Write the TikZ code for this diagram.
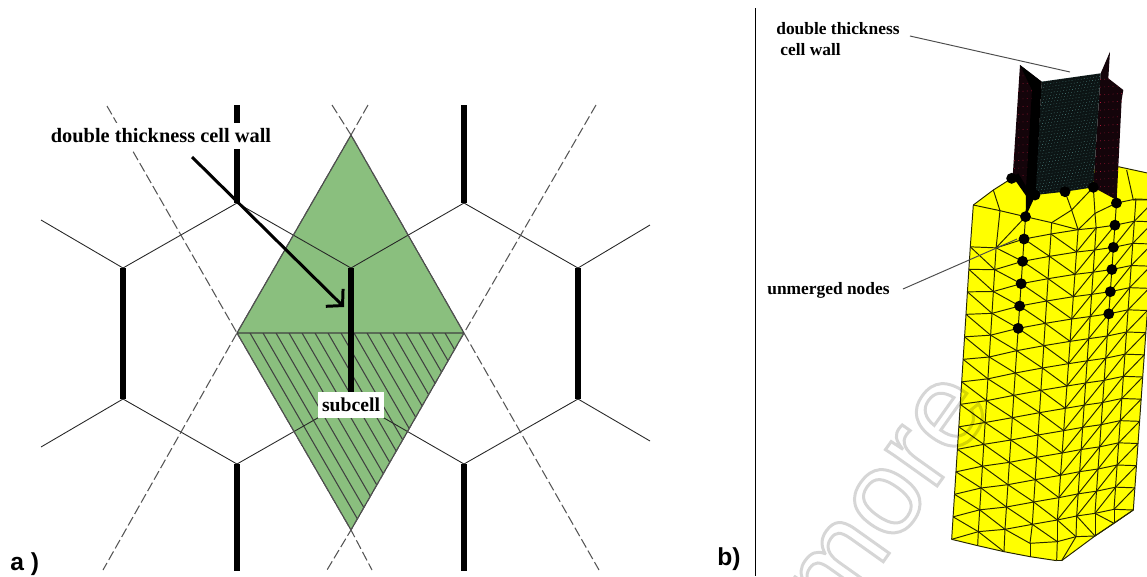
\documentclass[tikz,border=0pt]{standalone}
\usepackage{fontspec}
\setmainfont{Liberation Serif}
\newfontfamily\panelfont{Liberation Sans}
\usepackage{tikz}
\usetikzlibrary{positioning,calc,arrows.meta}
\definecolor{colorsub}{HTML}{8ABF7E}
\definecolor{colormesh}{HTML}{FFFF00}
\definecolor{colordash}{HTML}{555555}
\definecolor{colorleft}{HTML}{14040A}
\definecolor{colormid}{HTML}{0C1414}
\definecolor{colorred}{HTML}{B01838}
\definecolor{colorteal}{HTML}{5A9A98}
\tikzset{
  tag/.style={draw=none, inner sep=0pt, font=\bfseries},
  whitetag/.style={tag, fill=white, minimum height=14.5pt, inner xsep=1pt},
  panel/.style={draw=none, inner sep=0pt, font=\panelfont\bfseries\fontsize{14}{14}\selectfont},
  edgethin/.style={black!85, line width=0.5pt},
  edgewall/.style={black, line width=2.9pt},
  edgecut/.style={colordash, line width=0.6pt, dash pattern=on 5.5pt off 2pt},
  edgesub/.style={black!75, line width=0.6pt},
  edgelead/.style={black!70, line width=0.55pt},
  edgemesh/.style={black!85!colormesh, line width=0.55pt},
  nodedot/.style={circle, fill=black, inner sep=0pt, minimum size=6.2pt}
}
\begin{document}
\begin{tikzpicture}[x=0.02cm,y=-0.02cm]
\useasboundingbox (0,0) rectangle (1147,576);
\clip (0,0) rectangle (1147,576);

\coordinate (top) at (351,135);
\coordinate (lft) at (237,333);
\coordinate (rgt) at (464,333);
\coordinate (bot) at (351,530);
\coordinate (h1) at (237,203);
\coordinate (h2) at (351,268);
\coordinate (h3) at (464,203);
\coordinate (h4) at (123,268);
\coordinate (h5) at (578,268);
\coordinate (h6) at (123,399);
\coordinate (h7) at (351,399);
\coordinate (h8) at (578,399);
\coordinate (h9) at (237,464);
\coordinate (h10) at (464,464);

\fill[colorsub] (top) -- (rgt) -- (bot) -- (lft) -- cycle;
\begin{scope}
\clip (lft) -- (rgt) -- (bot) -- cycle;
\foreach \i in {0,...,15}
  \draw[edgesub] (250+\i*13,333) -- ++(171,296);
\end{scope}
\draw[edgesub] (top) -- (rgt) -- (bot) -- (lft) -- cycle (lft) -- (rgt);

\foreach \a/\b in {h4/h1,h1/h2,h2/h3,h3/h5,h6/h9,h9/h7,h7/h10,h10/h8}
  \draw[edgethin] (\a) -- (\b);
\draw[edgethin] (41,220) -- (h4);
\draw[edgethin] (41,447) -- (h6);
\draw[edgethin] (650,225) -- (h5);
\draw[edgethin] (650,441) -- (h8);

\draw[edgecut] (107,106) -- (lft) -- (bot) -- (372,570);
\draw[edgecut] (368,105) -- (top) -- (lft) -- (103,570);
\draw[edgecut] (596,105) -- (rgt) -- (bot) -- (327,570);
\draw[edgecut] (332,105) -- (top) -- (rgt) -- (599,570);

\draw[edgewall] (237,105) -- (h1);
\draw[edgewall] (464,105) -- (h3);
\draw[edgewall] (h2) -- (h7);
\draw[edgewall] (h4) -- (h6);
\draw[edgewall] (h5) -- (h8);
\draw[edgewall] (h9) -- (237,571);
\draw[edgewall] (h10) -- (464,571);

\node[whitetag, font=\bfseries\fontsize{11.6}{12}\selectfont, anchor=center, minimum height=15pt] (wallA) at (161,136)
{double thickness cell wall};
\node[whitetag, font=\bfseries\fontsize{11.2}{12}\selectfont, anchor=center, minimum width=37.5pt] (sub) at (351,405)
{subcell};
\coordinate (tipA) at (344,307);
\draw[black, line width=1.7pt, -{Straight Barb[length=6.5pt,width=14pt,line width=1.7pt]}] (192,157) -- (tipA);

\node[panel, anchor=base west] (pa) at (10,570) {a )};
\node[panel, anchor=base west] (pb) at (717,565) {b)};
\draw[black, line width=0.6pt] (755.5,8) -- (755.5,576);

\begin{scope}[shift={(860,280)},x=0.02cm/3,y=-0.02cm/3]
\foreach \c/\xa/\ya/\xb/\yb in {0/275/778/4.3/67.5,1/355/755/4.1/65.5,2/435/748/4.4/67,3/517/733/4.3/67,4/592/720/4.8/67,5/650/708/4.5/66.5,6/705/700/4.6/66.5,7/762/688/4.7/66.5,8/820/690/4.7/66.5}
  \foreach \k in {0,...,14}
    \coordinate (m\c-\k) at ({\xa+\k*\xb},{\ya-\k*\yb});
\coordinate (ta) at (340,-225);
\coordinate (tb) at (400,-270);
\coordinate (tc) at (455,-305);
\coordinate (td) at (420,-208);
\coordinate (te) at (525,-255);
\coordinate (tf) at (615,-265);
\coordinate (tg) at (700,-278);
\coordinate (th) at (575,-172);
\coordinate (ti) at (635,-210);
\coordinate (tj) at (705,-200);
\coordinate (tk) at (775,-340);
\coordinate (tl) at (890,-315);
\coordinate (tm) at (800,-330);
\coordinate (tn) at (820,-240);
\coordinate (b1) at (353,797);
\coordinate (b2) at (432,815);
\coordinate (b3) at (510,830);
\coordinate (b4) at (590,842);
\coordinate (b5) at (605,842);
\coordinate (b6) at (705,768);
\coordinate (c3) at (510,790);
\coordinate (c4) at (592,785);
\coordinate (c5) at (648,770);
\coordinate (c7) at (762,730);

\fill[colormesh] (m0-0) -- (ta) -- (tb) -- (tc) -- (tk) -- (tl) -- (m8-14) -- (m8-0) -- (b6) -- (b5) -- (b4) -- (b3) -- (b2) -- (b1) -- cycle;

\foreach \c [count=\d from 1] in {0,...,7}
  \foreach \k in {0,...,13}
    \draw[edgemesh] (m\c-\k) -- (m\d-\k);
\foreach \c in {0,...,8}
  \foreach \k [count=\n from 1] in {0,...,12}
    \draw[edgemesh] (m\c-\k) -- (m\c-\n);
\foreach \c [count=\d from 1] in {0,...,3}
  \foreach \k [count=\n from 1] in {0,...,12}
    \draw[edgemesh] (m\c-\n) -- (m\d-\k);
\foreach \c [count=\d from 5] in {4,...,7}
  \foreach \k [count=\n from 1] in {0,...,12}
    \draw[edgemesh] (m\c-\k) -- (m\d-\n);
\foreach \a/\b in {m0-0/b1,b1/b2,b2/b3,b3/b4,b4/b5,b5/b6,b6/m8-0,m1-0/b1,m1-0/b2,m2-0/b2,m2-0/c3,m3-0/c3,c3/b3,m3-0/c4,c3/c4,m4-0/c4,c4/b4,c4/c5,c5/b5,m4-0/c5,m5-0/c5,c5/b6,m5-0/b6,m6-0/b6,m6-0/c7,m7-0/c7,b6/c7,c7/m8-0}
  \draw[edgemesh] (\a) -- (\b);
\foreach \a/\b in {m0-13/ta,ta/tb,tb/tc,ta/td,tb/td,m1-13/td,td/m2-14,m1-13/m2-14,m2-13/m2-14,m2-14/th,m3-13/th,th/ti,tf/ti,ti/tg,ti/m4-13,m4-13/th,m4-13/tj,tj/tg,tj/m6-14,m5-13/tj,m6-13/m6-14,m6-14/m7-14,m7-14/m7-13,m7-14/tn,m7-14/m8-14,tn/tm,tn/m8-14,tk/tl,m8-13/m8-14,m7-13/m8-14}
  \draw[edgemesh] (\a) -- (\b);

\fill[colorleft] (480,-645) -- (545,-595) -- (505,-270) -- (458,-310) -- cycle;
\fill[colorleft] (722,-620) -- (750,-685) -- (745,-605) -- (790,-570) -- (785,-540) -- (775,-340) -- (770,-240) -- (700,-278) -- cycle;
\fill[colormid] (545,-595) -- (722,-620) -- (700,-278) -- (615,-265) -- (525,-255) -- cycle;
\begin{scope}
\clip (545,-595) -- (722,-620) -- (700,-278) -- (615,-265) -- (525,-255) -- cycle;
\foreach \i in {0,...,38}
  \draw[colorteal, line width=0.25pt, dash pattern=on 0.35pt off 1.4pt, dash phase=\i*0.5pt] (510,{-590+\i*9}) -- ++(240,-34);
\end{scope}
\begin{scope}
\clip (480,-645) -- (545,-595) -- (505,-270) -- (458,-310) -- cycle;
\foreach \i in {0,...,13}
  \draw[colorred, line width=0.35pt, dash pattern=on 0.4pt off 2pt] (450,{-610+\i*23}) -- ++(100,-6);
\end{scope}
\begin{scope}
\clip (722,-620) -- (745,-605) -- (790,-570) -- (785,-540) -- (775,-340) -- (770,-240) -- (700,-278) -- cycle;
\foreach \i in {0,...,15}
  \draw[colorred, line width=0.35pt, dash pattern=on 0.4pt off 2pt] (695,{-600+\i*23}) -- ++(100,-6);
\end{scope}
\fill[black] (480,-645) -- (545,-595) -- (527,-255) -- (497,-190) -- (498,-275) -- (516,-570) -- cycle;
\fill[black] (458,-310) -- (475,-320) -- (505,-270) -- (500,-250) -- cycle;

\foreach \k in {9,...,14}
  \node[nodedot] (dl\k) at (m2-\k) {};
\foreach \k in {9,...,14}
  \node[nodedot] (dr\k) at (m6-\k) {};
\node[nodedot] (dtc) at (tc) {};
\node[nodedot] (dte) at (te) {};
\node[nodedot] (dtf) at (tf) {};
\node[nodedot] (dtg) at (tg) {};
\end{scope}

\node[tag, font=\bfseries\fontsize{9.9}{11.5}\selectfont, anchor=west] (wallB) at (776,29) {double thickness};
\node[tag, font=\bfseries\fontsize{9.9}{11.5}\selectfont, anchor=west] (wallC) at (780,50) {cell wall};
\node[tag, font=\bfseries\fontsize{9.9}{11.5}\selectfont, anchor=west] (unm) at (767,290) {unmerged nodes};
\coordinate (leadA) at (1070,72);
\coordinate (leadB) at (1017,239);
\draw[edgelead] (wallB.east)+(10,7) -- (leadA);
\draw[edgelead] (unm.east)+(13,-1) -- (leadB);

\begin{scope}[blend mode=multiply]
\node[inner sep=0pt, rotate=54.6, anchor=base, font=\panelfont\fontsize{68}{68}\selectfont] (stamp) at (915,517)
{\special{pdf:code q 1 Tr 1.7 w 0.84 G}more\special{pdf:code Q}};
\end{scope}
\end{tikzpicture}
\end{document}
